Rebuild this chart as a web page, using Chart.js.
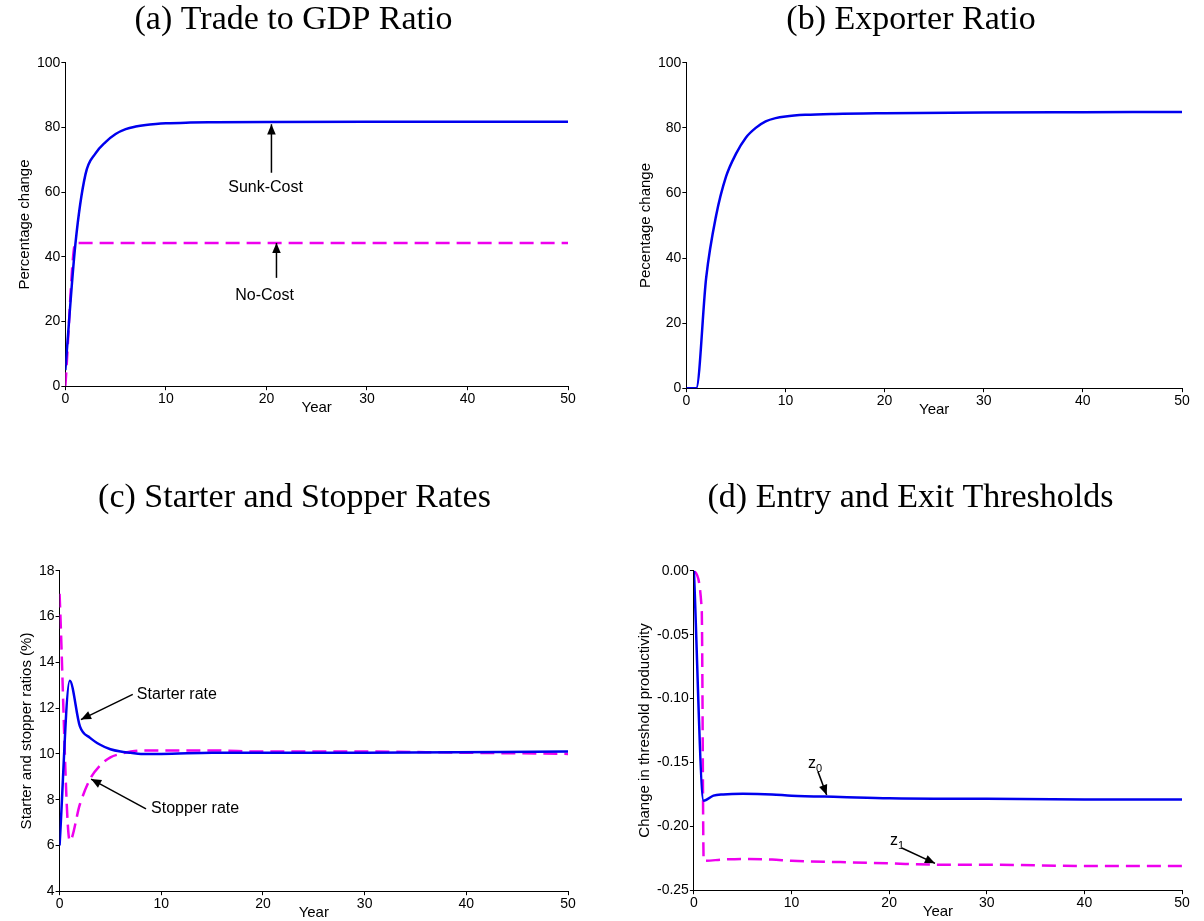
<!DOCTYPE html>
<html><head><meta charset="utf-8">
<script src="https://cdn.jsdelivr.net/npm/chart.js@4.4.0/dist/chart.umd.min.js"></script>
<style>
body{margin:0;background:#fff;width:1204px;height:921px;position:relative;overflow:hidden}
.box{position:absolute}
</style></head><body>
<div class="box" style="left:0;top:0;width:590px;height:417px"><canvas id="ca"></canvas></div>
<div class="box" style="left:610px;top:0;width:594px;height:419px"><canvas id="cb"></canvas></div>
<div class="box" style="left:0;top:478px;width:590px;height:444px"><canvas id="cc"></canvas></div>
<div class="box" style="left:610px;top:478px;width:594px;height:443px"><canvas id="cd"></canvas></div>
<script>
/******** data ********/
const sunkYears = [0,1,2,3,4,5,6,7,8,9,10,12,15,20,30,40,50];
const sunkCost = [5,44,65.5,72,75.5,78,79.5,80.3,80.8,81.1,81.3,81.5,81.6,81.7,81.8,81.8,81.8];
const noCostYears = [0,1,50];
const noCost = [0,44.3,44.3];

const expYears = [0,1,2,3,4,5,6,7,8,9,10,12,15,20,30,40,50];
const exporterRatio = [0,0,34,53,65,72,77,80,82,83,83.5,84,84.3,84.5,84.7,84.8,84.9];

const starterYears = [0,1,2,3,4,5,6,7,8,10,15,20,30,50];
const starterRate = [6,13.2,11.2,10.7,10.4,10.2,10.1,10.05,10.0,10.0,10.05,10.05,10.05,10.1];
const stopperYears = [0,1,2,3,4,5,6,7,8,10,15,20,30,40,50];
const stopperRate = [17,6.2,7.8,8.9,9.5,9.85,10.0,10.1,10.15,10.15,10.15,10.1,10.1,10.05,10.0];

const z0Years = [0,1,2,3,5,8,10,15,20,30,40,50];
const z0 = [0,-0.18,-0.176,-0.175,-0.1745,-0.175,-0.176,-0.177,-0.178,-0.1785,-0.179,-0.179];
const z1Years = [0,0.8,1,3,5,8,10,15,20,25,30,40,50];
const z1 = [0,-0.03,-0.227,-0.226,-0.2255,-0.226,-0.227,-0.228,-0.229,-0.230,-0.230,-0.231,-0.231];

function pts(xs, ys){ return xs.map((x,i)=>({x:x, y:ys[i]})); }

const blue = '#0000ee', magenta = '#ee00ee';
const sans = 'Liberation Sans, Arial, sans-serif';

function line(xs, ys, color, dashed){
  return {data: pts(xs, ys), borderColor: color, borderWidth: 2.5, pointRadius: 0,
    borderDash: dashed ? [14,7] : [], cubicInterpolationMode: 'monotone', fill: false};
}

// arrows + notes drawn in data coords
const notes = {
  ca: [{text:'Sunk-Cost', x:16.2, y:61.5, from:[20.5,66], to:[20.5,81]},
       {text:'No-Cost', x:16.9, y:28, from:[21,33.5], to:[21,44.3]}],
  cb: [],
  cc: [{text:'Starter rate', x:7.6, y:12.6, from:[7.2,12.6], to:[2.1,11.5]},
       {text:'Stopper rate', x:9, y:7.6, from:[8.5,7.6], to:[3.1,8.9]}],
  cd: [{text:'z', sub:'0', x:11.7, y:-0.151, from:[12.7,-0.157], to:[13.6,-0.1755]},
       {text:'z', sub:'1', x:20.1, y:-0.2115, from:[21.3,-0.217], to:[24.7,-0.229]}]
};

const notePlugin = {
  id: 'notes',
  afterDatasetsDraw(chart){
    const list = notes[chart.canvas.id] || [];
    const c = chart.ctx, sx = chart.scales.x, sy = chart.scales.y;
    c.save();
    list.forEach(n => {
      c.fillStyle = '#000';
      c.font = '16px ' + sans;
      c.textBaseline = 'middle';
      const tx = sx.getPixelForValue(n.x), ty = sy.getPixelForValue(n.y);
      c.fillText(n.text, tx, ty);
      if (n.sub){
        const w = c.measureText(n.text).width;
        c.font = '11px ' + sans;
        c.fillText(n.sub, tx + w, ty + 5);
      }
      const x1 = sx.getPixelForValue(n.from[0]), y1 = sy.getPixelForValue(n.from[1]);
      const x2 = sx.getPixelForValue(n.to[0]), y2 = sy.getPixelForValue(n.to[1]);
      c.strokeStyle = '#000'; c.lineWidth = 1.5;
      c.beginPath(); c.moveTo(x1,y1); c.lineTo(x2,y2); c.stroke();
      const a = Math.atan2(y2-y1, x2-x1), L = 11, W = 0.4;
      c.beginPath();
      c.moveTo(x2,y2);
      c.lineTo(x2 - L*Math.cos(a-W), y2 - L*Math.sin(a-W));
      c.lineTo(x2 - L*Math.cos(a+W), y2 - L*Math.sin(a+W));
      c.closePath(); c.fill();
    });
    c.restore();
  }
};

function axis(min, max, step, title, digits, isX){
  return {
    type: 'linear', min: min, max: max,
    border: {color:'#000', width:1},
    grid: {drawOnChartArea:false, color:'#000', tickLength:4},
    ticks: {stepSize: step, color:'#000', font:{family:sans, size:14}, padding:1,
      callback: v => digits ? v.toFixed(digits) : v},
    title: {display:true, text:title, color:'#000', font:{family:sans, size:15},
      padding: isX ? {top:-10, bottom:0} : {top:-3, bottom:2}}
  };
}

function makeChart(id, title, sets, ymin, ymax, ystep, ytitle, digits, pad, tpad){
  new Chart(document.getElementById(id), {
    type: 'line',
    data: {datasets: sets},
    options: {
      animation: false, responsive: true, maintainAspectRatio: false,
      layout: {padding: pad},
      plugins: {
        legend: {display:false}, tooltip: {enabled:false},
        title: {display:true, text:title, color:'#000',
          font:{family:'Liberation Serif, serif', size:34, weight:'normal'}, padding:{top:0,bottom:tpad}}
      },
      scales: {
        x: axis(0, 50, 10, 'Year', 0, true),
        y: axis(ymin, ymax, ystep, ytitle, digits)
      }
    },
    plugins: [notePlugin]
  });
}

makeChart('ca', '(a) Trade to GDP Ratio',
  [line(sunkYears, sunkCost, blue), line(noCostYears, noCost, magenta, true)],
  0, 100, 20, 'Percentage change', 0, {left:19, right:22, top:0, bottom:0}, 22);
makeChart('cb', '(b) Exporter Ratio',
  [line(expYears, exporterRatio, blue)],
  0, 100, 20, 'Pecentage change', 0, {left:30, right:22, top:0, bottom:0}, 22);
makeChart('cc', '(c) Starter and Stopper Rates',
  [line(starterYears, starterRate, blue), line(stopperYears, stopperRate, magenta, true)],
  4, 18, 2, 'Starter and stopper ratios (%)', 0, {left:21, right:22, top:0, bottom:0}, 52);
makeChart('cd', '(d) Entry and Exit Thresholds',
  [line(z0Years, z0, blue), line(z1Years, z1, magenta, true)],
  -0.25, 0, 0.05, 'Change in threshold productivity', 2, {left:29, right:22, top:0, bottom:0}, 52);
</script>
</body></html>
